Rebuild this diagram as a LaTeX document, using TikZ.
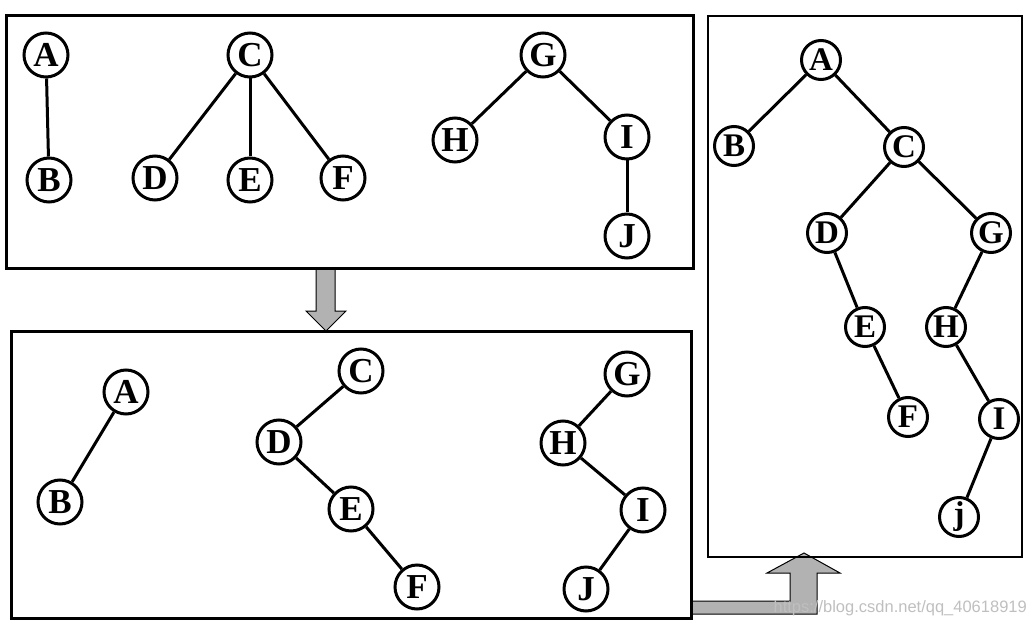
\documentclass[tikz,border=0pt]{standalone}
\usepackage{fontspec}
\setmainfont{Liberation Serif}
\newfontfamily\wmfont{Liberation Sans}

\begin{document}
\begin{tikzpicture}[x=1pt,y=-1pt,
  vtx/.style={draw,circle,fill=white,line width=3pt,inner sep=0pt,minimum size=44pt,
              font=\fontsize{35}{35}\selectfont\bfseries},
  rvtx/.style={vtx,minimum size=39pt,font=\fontsize{33}{33}\selectfont\bfseries},
  lnk/.style={line width=3pt},
  fatarrow/.style={draw,fill=black!30,line width=1pt}]
\useasboundingbox (0,0) rectangle (1032,628);

% gray arrows
\draw[fatarrow] (316,268) -- (316,311) -- (306,311) -- (326,331) -- (346,311) -- (335,311) -- (335,268);
\draw[fatarrow] (691,601) -- (790,601) -- (790,573) -- (767,573) -- (804,553) -- (840,573)
      -- (817,573) -- (817,614) -- (691,614);

% boxes
\draw[line width=3pt] (6,16) rectangle (693,268);
\draw[line width=3pt] (11,331) rectangle (691,618);
\draw[line width=1.3pt] (708,16) rectangle (1022,557);

% forest
\node[vtx] (tA) at (46,55) {A};
\node[vtx] (tB) at (49,180) {B};
\node[vtx] (tC) at (250,55) {C};
\node[vtx] (tD) at (155,178) {D};
\node[vtx] (tE) at (250,180) {E};
\node[vtx] (tF) at (343,178) {F};
\node[vtx] (tG) at (543,55) {G};
\node[vtx] (tH) at (455,140) {H};
\node[vtx] (tI) at (627,137) {I};
\node[vtx] (tJ) at (627,236) {J};
\draw[lnk] (tA) -- (tB);
\draw[lnk] (tC) -- (tD);
\draw[lnk] (tC) -- (tE);
\draw[lnk] (tC) -- (tF);
\draw[lnk] (tG) -- (tH);
\draw[lnk] (tG) -- (tI);
\draw[lnk] (tI) -- (tJ);

% binary trees
\node[vtx] (bA) at (126,392) {A};
\node[vtx] (bB) at (60,502) {B};
\node[vtx] (bC) at (361,371) {C};
\node[vtx] (bD) at (279,442) {D};
\node[vtx] (bE) at (351,509) {E};
\node[vtx] (bF) at (417,587) {F};
\node[vtx] (bG) at (627,374) {G};
\node[vtx] (bH) at (563,443) {H};
\node[vtx] (bI) at (643,510) {I};
\node[vtx] (bJ) at (586,589) {J};
\draw[lnk] (bA) -- (bB);
\draw[lnk] (bC) -- (bD);
\draw[lnk] (bD) -- (bE);
\draw[lnk] (bE) -- (bF);
\draw[lnk] (bG) -- (bH);
\draw[lnk] (bH) -- (bI);
\draw[lnk] (bI) -- (bJ);

% joined tree
\node[rvtx] (rA) at (821,60) {A};
\node[rvtx] (rB) at (734,146) {B};
\node[rvtx] (rC) at (904,147) {C};
\node[rvtx] (rD) at (827,233) {D};
\node[rvtx] (rG) at (991,233) {G};
\node[rvtx] (rE) at (865,327) {E};
\node[rvtx] (rH) at (946,327) {H};
\node[rvtx] (rF) at (908,417) {F};
\node[rvtx] (rI) at (999,419) {I};
\node[rvtx] (rj) at (959,517) {j};
\draw[lnk] (rA) -- (rB);
\draw[lnk] (rA) -- (rC);
\draw[lnk] (rC) -- (rD);
\draw[lnk] (rC) -- (rG);
\draw[lnk] (rD) -- (rE);
\draw[lnk] (rE) -- (rF);
\draw[lnk] (rG) -- (rH);
\draw[lnk] (rH) -- (rI);
\draw[lnk] (rI) -- (rj);

\node[text=black!25,font=\wmfont\fontsize{16.5}{16.5}\selectfont,anchor=east,inner sep=0pt] (wm) at (1027,608)
  {https://blog.csdn.net/qq\_40618919};
\end{tikzpicture}
\end{document}
